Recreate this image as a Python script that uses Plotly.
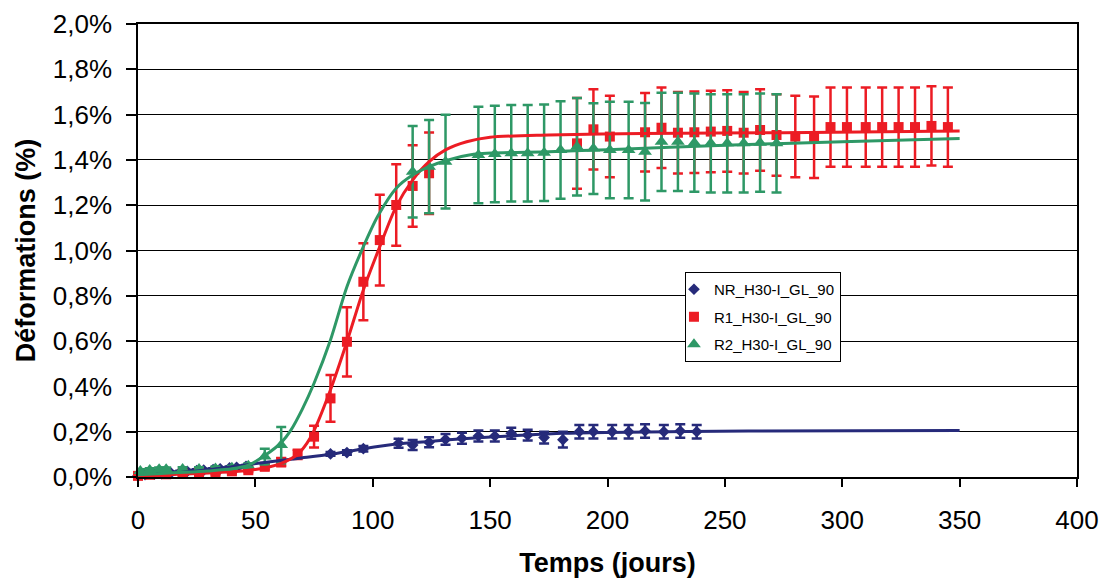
import plotly.graph_objects as go

# ---------------- data ----------------
# NR_H30-I_GL_90 (blue diamonds)
nr_days = [0, 3, 7, 10, 14, 18, 21, 25, 28, 32, 35, 39, 42, 46,
           82, 89, 96, 111, 117, 124, 131, 138, 145, 152, 159, 166, 173, 181,
           188, 194, 202, 209, 216, 224, 231, 238]
nr_vals = [0.005, 0.010, 0.013, 0.015, 0.018, 0.022, 0.025, 0.028, 0.030, 0.033, 0.036, 0.040, 0.043, 0.047,
           0.102, 0.108, 0.125, 0.149, 0.141, 0.153, 0.166, 0.171, 0.181, 0.181, 0.193, 0.185, 0.174, 0.165,
           0.200, 0.200, 0.200, 0.200, 0.203, 0.200, 0.203, 0.200]
nr_err = [0.006, 0.006, 0.006, 0.006, 0.006, 0.006, 0.006, 0.006, 0.006, 0.006, 0.006, 0.006, 0.006, 0.006,
          0.008, 0.010, 0.012, 0.020, 0.022, 0.022, 0.024, 0.024, 0.024, 0.024, 0.024, 0.024, 0.026, 0.035,
          0.030, 0.030, 0.030, 0.030, 0.030, 0.030, 0.030, 0.030]

# R1_H30-I_GL_90 (red squares)
r1_days = [0, 5, 12, 19, 26, 33, 40, 47, 54, 61, 68, 75, 82, 89, 96, 103, 110, 117, 124,
           187, 194, 201, 216, 223, 230, 237, 244, 251, 258, 265, 272, 280, 288,
           295, 302, 310, 317, 324, 331, 338, 345]
r1_vals = [0.005, 0.010, 0.012, 0.015, 0.018, 0.020, 0.025, 0.030, 0.045, 0.066, 0.100, 0.178, 0.347, 0.597,
           0.862, 1.046, 1.201, 1.285, 1.341,
           1.473, 1.535, 1.503, 1.522, 1.542, 1.520, 1.522, 1.525, 1.528, 1.520, 1.532, 1.510, 1.503, 1.500,
           1.545, 1.545, 1.545, 1.545, 1.545, 1.545, 1.550, 1.545]
r1_err = [0.008, 0.008, 0.008, 0.008, 0.008, 0.008, 0.008, 0.008, 0.012, 0.018, 0.020, 0.048, 0.103, 0.153,
          0.170, 0.200, 0.180, 0.180, 0.180,
          0.200, 0.177, 0.180, 0.173, 0.178, 0.180, 0.180, 0.180, 0.180, 0.180, 0.180, 0.180, 0.180, 0.180,
          0.175, 0.175, 0.175, 0.175, 0.175, 0.175, 0.175, 0.175]

# R2_H30-I_GL_90 (green triangles)
r2_days = [1, 5, 9, 12, 19, 26, 33, 40, 47, 54, 61, 117, 124, 131,
           145, 152, 159, 166, 173, 180, 187, 194, 201, 209, 216, 223, 230, 237, 244, 251, 258, 265, 272]
r2_vals = [0.026, 0.031, 0.034, 0.034, 0.035, 0.035, 0.038, 0.041, 0.050, 0.090, 0.141, 1.348, 1.370, 1.392,
           1.422, 1.426, 1.429, 1.429, 1.432, 1.444, 1.458, 1.450, 1.444, 1.444, 1.436, 1.480, 1.480, 1.476,
           1.473, 1.473, 1.473, 1.476, 1.473]
r2_err = [0.008, 0.008, 0.008, 0.008, 0.008, 0.008, 0.008, 0.008, 0.010, 0.035, 0.080, 0.202, 0.206, 0.207,
          0.213, 0.213, 0.213, 0.213, 0.213, 0.215, 0.215, 0.200, 0.213, 0.213, 0.215, 0.217, 0.217, 0.217,
          0.217, 0.217, 0.217, 0.217, 0.217]

# fitted curves
nr_fit_days = [0, 10, 20, 30, 40, 53, 68, 82, 96, 110, 124, 140, 160, 181, 200, 260, 350]
nr_fit_vals = [0.0, 0.012, 0.022, 0.032, 0.045, 0.063, 0.082, 0.100, 0.125, 0.146, 0.157, 0.170, 0.182, 0.193,
               0.197, 0.203, 0.205]

r1_fit_days = [0, 10, 20, 30, 40, 50, 55, 61, 65, 68, 72, 75, 82, 89, 96, 103, 110, 117, 124, 131, 140,
               150, 175, 215, 275, 350]
r1_fit_vals = [0.0, 0.008, 0.013, 0.018, 0.023, 0.033, 0.042, 0.060, 0.080, 0.100, 0.150, 0.205, 0.385, 0.597,
               0.826, 1.017, 1.195, 1.311, 1.392, 1.444, 1.480, 1.500, 1.510, 1.517, 1.520, 1.528]

r2_fit_days = [0, 10, 20, 30, 40, 47, 54, 61, 65, 70, 75, 82, 89, 96, 102, 110, 117, 124, 131, 143,
               175, 200, 250, 300, 350]
r2_fit_vals = [0.010, 0.016, 0.021, 0.027, 0.036, 0.052, 0.095, 0.152, 0.205, 0.300, 0.414, 0.605, 0.840,
               1.017, 1.149, 1.275, 1.333, 1.370, 1.396, 1.425, 1.436, 1.445, 1.465, 1.480, 1.494]

names = ["NR_H30-I_GL_90", "R1_H30-I_GL_90", "R2_H30-I_GL_90"]
colors = ["#262a7a", "#ec1c24", "#2e9866"]
symbols = ["diamond", "square", "triangle-up"]
msizes = [9, 10, 12]

x_ticks = [0, 50, 100, 150, 200, 250, 300, 350, 400]
y_ticks = [0.0, 0.2, 0.4, 0.6, 0.8, 1.0, 1.2, 1.4, 1.6, 1.8, 2.0]
y_tick_labels = ["0,0%", "0,2%", "0,4%", "0,6%", "0,8%", "1,0%", "1,2%", "1,4%", "1,6%", "1,8%", "2,0%"]

FONT = "Arial, 'Liberation Sans', Helvetica, sans-serif"

fig = go.Figure()

series = [(nr_days, nr_vals, nr_err), (r1_days, r1_vals, r1_err), (r2_days, r2_vals, r2_err)]
for i, (d, v, e) in enumerate(series):
    fig.add_trace(go.Scatter(
        x=d, y=v, mode="markers", name=names[i], legendgroup=names[i],
        marker=dict(symbol=symbols[i], size=msizes[i], color=colors[i], line=dict(width=0)),
        error_y=dict(type="data", array=e, visible=True, color=colors[i], thickness=2.5, width=5),
        cliponaxis=False,
    ))

fits = [(nr_fit_days, nr_fit_vals), (r1_fit_days, r1_fit_vals), (r2_fit_days, r2_fit_vals)]
for i, (d, v) in enumerate(fits):
    fig.add_trace(go.Scatter(
        x=d, y=v, mode="lines", showlegend=False, hoverinfo="skip",
        line=dict(color=colors[i], width=3, shape="spline", smoothing=0.8),
    ))

fig.update_layout(
    width=1112, height=570,
    margin=dict(l=130, r=43, t=16, b=101, autoexpand=False),
    paper_bgcolor="white", plot_bgcolor="white",
    font=dict(family=FONT, color="black", size=26),
    showlegend=True,
    legend=dict(
        x=0.5825, y=0.4525, xanchor="left", yanchor="top",
        bgcolor="white", bordercolor="black", borderwidth=1,
        font=dict(family=FONT, size=15, color="black"),
        tracegroupgap=5, itemwidth=30, indentation=-12,
    ),
    xaxis=dict(
        range=[0, 400], tickvals=x_ticks, ticktext=[str(t) for t in x_ticks],
        showgrid=False, zeroline=False,
        showline=True, linecolor="black", linewidth=1.5, mirror=True,
        ticks="outside", ticklen=8, tickwidth=1.5, tickcolor="black",
        tickfont=dict(size=26, family=FONT), ticklabelstandoff=11,
        title=dict(text="<b>Temps (jours)</b>", font=dict(size=27, family=FONT), standoff=24),
        automargin=False,
    ),
    yaxis=dict(
        range=[0, 2.0], tickvals=y_ticks, ticktext=y_tick_labels,
        showgrid=True, gridcolor="black", gridwidth=1.3, zeroline=False,
        showline=True, linecolor="black", linewidth=1.5, mirror=True,
        ticks="outside", ticklen=10, tickwidth=1.5, tickcolor="black",
        tickfont=dict(size=26, family=FONT), ticklabelstandoff=9,
        title=dict(text="<b>Déformations (%)</b>", font=dict(size=27, family=FONT), standoff=9),
        automargin=False,
    ),
)

fig.write_html("out.html")
